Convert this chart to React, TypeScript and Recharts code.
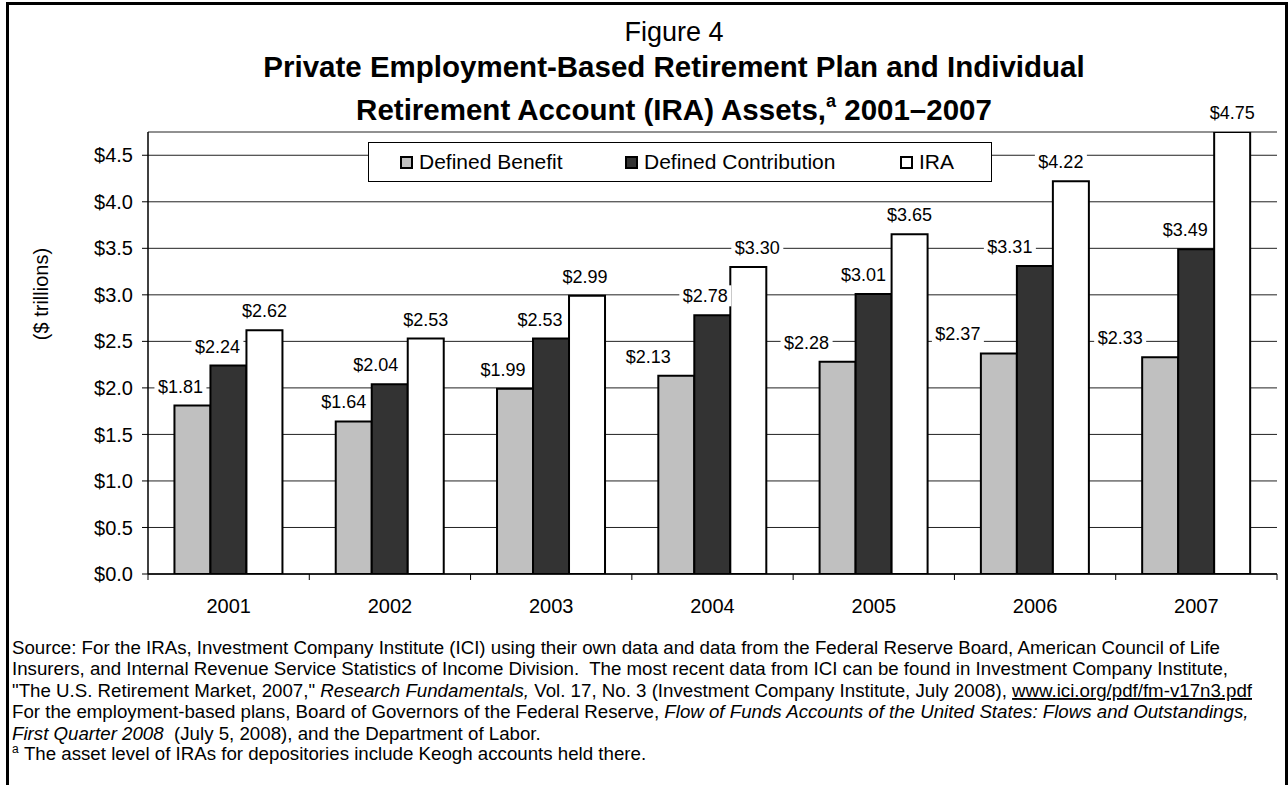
import React from 'react';
import { BarChart, Bar, XAxis, YAxis, CartesianGrid, Legend, LabelList, Label } from 'recharts';

const years = ['2001', '2002', '2003', '2004', '2005', '2006', '2007'];
const definedBenefit = [1.81, 1.64, 1.99, 2.13, 2.28, 2.37, 2.33];
const definedContribution = [2.24, 2.04, 2.53, 2.78, 3.01, 3.31, 3.49];
const iraAssets = [2.62, 2.53, 2.99, 3.3, 3.65, 4.22, 4.75];
const yTicks = [0, 0.5, 1, 1.5, 2, 2.5, 3, 3.5, 4, 4.5];

// horizontal nudges of the value labels, as they were placed in the original
const dbLabelShift = [-12, -10, -12, -28, -31, -41, -40];
const dcLabelShift = [-11, -14, -11, -7, -10, -25, -11];
const iraLabelShift = [0, 0, -2, 9, 0, -10, 0];

const data = years.map((year, i) => ({
  year,
  db: definedBenefit[i],
  dc: definedContribution[i],
  ira: iraAssets[i],
}));

const FONT = '"Liberation Sans", Arial, sans-serif';
const W = 1288;
const H = 785;
const PLOT_LEFT = 148;
const PLOT_RIGHT = 1277;
const PLOT_TOP = 132;
const PLOT_BOTTOM = 574;
const CHART_H = 640;
const X_AXIS_H = 40;
const HALF_BAND = (PLOT_RIGHT - PLOT_LEFT) / years.length / 2;
const TITLE_X = 674;

const series = [
  { key: 'db', name: 'Defined Benefit', fill: '#c0c0c0', shift: dbLabelShift },
  { key: 'dc', name: 'Defined Contribution', fill: '#333333', shift: dcLabelShift },
  { key: 'ira', name: 'IRA', fill: '#ffffff', shift: iraLabelShift },
];

const money = (v: number, digits: number) => `$${v.toFixed(digits)}`;

const makeLabel = (shift: number[]) => (props: any) => {
  const { x, y, width, value, index } = props;
  const cx = x + width / 2 + (shift[index] || 0);
  const text = money(value, 2);
  const w = text.length * 9.6 + 4;
  const ty = y - 13;
  return (
    <g>
      <rect x={cx - w / 2} y={ty - 17} width={w} height={21} fill="#fff" />
      <text x={cx} y={ty} textAnchor="middle" fontSize={18} fontFamily={FONT} fill="#000">
        {text}
      </text>
    </g>
  );
};

const XTick = (props: any) => {
  const { x, payload, index } = props;
  const y = PLOT_BOTTOM;
  const last = index === years.length - 1;
  return (
    <g>
      <line x1={x - HALF_BAND} y1={y} x2={x - HALF_BAND} y2={y + 6} stroke="#000" />
      {last && <line x1={x + HALF_BAND} y1={y} x2={x + HALF_BAND} y2={y + 6} stroke="#000" />}
      <text x={x} y={y + 39} textAnchor="middle" fontSize={20} fontFamily={FONT} fill="#000">
        {payload.value}
      </text>
    </g>
  );
};

const LegendBox = () => (
  <div
    style={{
      position: 'relative',
      width: 624,
      height: 40,
      border: '1px solid #000',
      background: '#fff',
      boxSizing: 'border-box',
      fontFamily: FONT,
      fontSize: 21,
    }}
  >
    {series.map((s, i) => (
      <div
        key={s.key}
        style={{
          position: 'absolute',
          left: [31, 256, 531][i],
          top: 7,
          display: 'flex',
          alignItems: 'center',
          lineHeight: '24px',
        }}
      >
        <span
          style={{
            display: 'inline-block',
            width: 9,
            height: 9,
            border: '2px solid #000',
            background: s.fill,
            marginRight: 6,
          }}
        />
        {s.name}
      </div>
    ))}
  </div>
);

const Notes = () => (
  <svg
    width={W}
    height={H}
    style={{ position: 'absolute', left: 0, top: 0 }}
    fontFamily={FONT}
    fill="#000"
  >
    <text x={TITLE_X} y={41} textAnchor="middle" fontSize={27}>
      Figure 4
    </text>
    <text x={TITLE_X} y={77} textAnchor="middle" fontSize={29.5} fontWeight="bold">
      Private Employment-Based Retirement Plan and Individual
    </text>
    <text x={TITLE_X} y={120} textAnchor="middle" fontSize={29.5} fontWeight="bold">
      Retirement Account (IRA) Assets,
      <tspan fontSize={18} dy={-13}>a</tspan>
      <tspan dy={13}>{'\u00a02001–2007'}</tspan>
    </text>

    <g fontSize={18.7}>
      <text x={12} y={654}>
        Source: For the IRAs, Investment Company Institute (ICI) using their own data and data from the Federal Reserve Board, American Council of Life
      </text>
      <text x={12} y={675}>
        {'Insurers, and Internal Revenue Service Statistics of Income Division.\u00a0 The most recent data from ICI can be found in Investment Company Institute,'}
      </text>
      <text x={12} y={697}>
        "The U.S. Retirement Market, 2007,"{' '}
        <tspan fontStyle="italic">Research Fundamentals,</tspan> Vol. 17, No. 3 (Investment Company Institute, July 2008),{' '}
        <tspan textDecoration="underline">www.ici.org/pdf/fm-v17n3.pdf</tspan>
      </text>
      <text x={12} y={718}>
        For the employment-based plans, Board of Governors of the Federal Reserve,{' '}
        <tspan fontStyle="italic">Flow of Funds Accounts of the United States: Flows and Outstandings,</tspan>
      </text>
      <text x={12} y={740}>
        <tspan fontStyle="italic">First Quarter 2008</tspan>
        {'\u00a0 (July 5, 2008), and the Department of Labor.'}
      </text>
      <text x={12} y={760}>
        <tspan fontSize={12} dy={-7}>a</tspan>
        <tspan dy={7}>{'\u00a0The asset level of IRAs for depositories include Keogh accounts held there.'}</tspan>
      </text>
    </g>
  </svg>
);

export default function App() {
  return (
    <div
      style={{
        position: 'absolute',
        left: 0,
        top: 0,
        width: W,
        height: H,
        background: '#fff',
        overflow: 'hidden',
        fontFamily: FONT,
      }}
    >
      <div
        style={{
          position: 'absolute',
          left: 6,
          top: 2,
          width: 1276,
          height: 800,
          borderLeft: '3px solid #000',
          borderTop: '3px solid #000',
          borderRight: '3px solid #000',
        }}
      />
      <Notes />

      <div style={{ position: 'absolute', left: 0, top: 0 }}>
        <BarChart
          width={W}
          height={CHART_H}
          data={data}
          margin={{
            top: PLOT_TOP,
            right: W - PLOT_RIGHT,
            bottom: CHART_H - PLOT_BOTTOM - X_AXIS_H,
            left: 5,
          }}
          barCategoryGap="16.4%"
          barGap={0}
        >
          <CartesianGrid horizontal vertical={false} stroke="#222" />
          <XAxis
            dataKey="year"
            axisLine={{ stroke: '#000', strokeWidth: 1.5 }}
            tickLine={false}
            tickSize={0}
            tickMargin={0}
            height={X_AXIS_H}
            tick={<XTick />}
            interval={0}
          />
          <XAxis
            xAxisId="top"
            orientation="top"
            dataKey="year"
            height={0}
            tick={false}
            tickLine={false}
            axisLine={{ stroke: '#808080', strokeWidth: 2 }}
          />
          <YAxis
            width={PLOT_LEFT - 5}
            domain={[0, 4.75]}
            ticks={yTicks}
            allowDataOverflow
            tickFormatter={(v: number) => money(v, 1)}
            tick={{ fill: '#000', fontSize: 20, fontFamily: FONT }}
            tickSize={6}
            tickMargin={9}
            tickLine={{ stroke: '#000' }}
            axisLine={{ stroke: '#000', strokeWidth: 1.5 }}
          >
            <Label
              content={() => (
                <text
                  x={48}
                  y={294}
                  transform="rotate(-90 48 294)"
                  textAnchor="middle"
                  fontSize={20}
                  fontFamily={FONT}
                  fill="#000"
                >
                  ($ trillions)
                </text>
              )}
            />
          </YAxis>
          <YAxis
            yAxisId="right"
            orientation="right"
            width={0}
            tick={false}
            tickLine={false}
            axisLine={{ stroke: '#808080', strokeWidth: 2 }}
          />
          <Legend
            verticalAlign="middle"
            align="center"
            wrapperStyle={{ left: 368, top: 142, width: 624, height: 40 }}
            content={() => <LegendBox />}
          />
          {series.map((s) => (
            <Bar
              key={s.key}
              dataKey={s.key}
              name={s.name}
              fill={s.fill}
              stroke="#000"
              strokeWidth={2}
              isAnimationActive={false}
            >
              <LabelList dataKey={s.key} content={makeLabel(s.shift)} />
            </Bar>
          ))}
        </BarChart>
      </div>
    </div>
  );
}
